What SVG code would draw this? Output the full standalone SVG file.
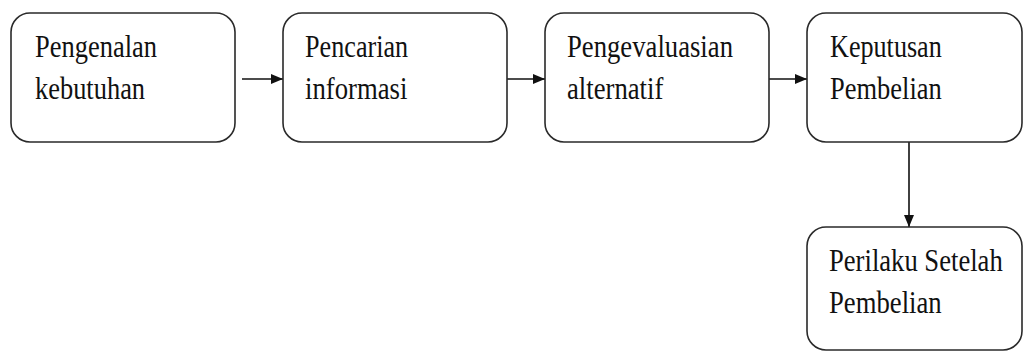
<svg xmlns="http://www.w3.org/2000/svg" width="1024" height="352" viewBox="0 0 1024 352">
  <style>
    .box { fill: #ffffff; stroke: #2a2a2a; stroke-width: 1.6; }
    .lbl { font-family: "Liberation Serif", "Times New Roman", serif; font-size: 31px; fill: #111111; }
    .edge { stroke: #111111; stroke-width: 1.6; fill: none; marker-end: url(#head); }
  </style>
  <defs>
    <marker id="head" viewBox="0 0 12 10" refX="12" refY="5" markerWidth="12" markerHeight="10" markerUnits="userSpaceOnUse" orient="auto">
      <path d="M0,0 L12,5 L0,10 Z" fill="#111111"/>
    </marker>
  </defs>
  <rect width="1024" height="352" fill="#ffffff"/>

  <g id="connectors">
    <line class="edge" x1="242" y1="79" x2="283" y2="79"/>
    <line class="edge" x1="507" y1="79" x2="545" y2="79"/>
    <line class="edge" x1="769" y1="79" x2="807" y2="79"/>
    <line class="edge" x1="909" y1="142" x2="909" y2="227"/>
  </g>

  <!-- labels use a narrowed serif: horizontal scale 0.86 -->
  <g id="node-pengenalan">
    <rect class="box" x="11" y="13" width="224" height="129" rx="19" ry="19"/>
    <text class="lbl" transform="translate(35 57) scale(0.86 1)" textLength="142" lengthAdjust="spacingAndGlyphs">Pengenalan</text>
    <text class="lbl" transform="translate(35 99) scale(0.86 1)" textLength="128" lengthAdjust="spacingAndGlyphs">kebutuhan</text>
  </g>

  <g id="node-pencarian">
    <rect class="box" x="283" y="13" width="224" height="129" rx="19" ry="19"/>
    <text class="lbl" transform="translate(305 57) scale(0.86 1)" textLength="120" lengthAdjust="spacingAndGlyphs">Pencarian</text>
    <text class="lbl" transform="translate(305 99) scale(0.86 1)" textLength="119" lengthAdjust="spacingAndGlyphs">informasi</text>
  </g>

  <g id="node-evaluasi">
    <rect class="box" x="545" y="13" width="224" height="129" rx="19" ry="19"/>
    <text class="lbl" transform="translate(567 57) scale(0.86 1)" textLength="193" lengthAdjust="spacingAndGlyphs">Pengevaluasian</text>
    <text class="lbl" transform="translate(567 99) scale(0.86 1)" textLength="112" lengthAdjust="spacingAndGlyphs">alternatif</text>
  </g>

  <g id="node-keputusan">
    <rect class="box" x="807" y="13" width="215" height="129" rx="19" ry="19"/>
    <text class="lbl" transform="translate(830 57) scale(0.86 1)" textLength="130" lengthAdjust="spacingAndGlyphs">Keputusan</text>
    <text class="lbl" transform="translate(830 99) scale(0.86 1)" textLength="130" lengthAdjust="spacingAndGlyphs">Pembelian</text>
  </g>

  <g id="node-perilaku">
    <rect class="box" x="807" y="227" width="215" height="123" rx="19" ry="19"/>
    <text class="lbl" transform="translate(829 271) scale(0.86 1)" textLength="202" lengthAdjust="spacingAndGlyphs">Perilaku Setelah</text>
    <text class="lbl" transform="translate(829 313) scale(0.86 1)" textLength="131" lengthAdjust="spacingAndGlyphs">Pembelian</text>
  </g>
</svg>
